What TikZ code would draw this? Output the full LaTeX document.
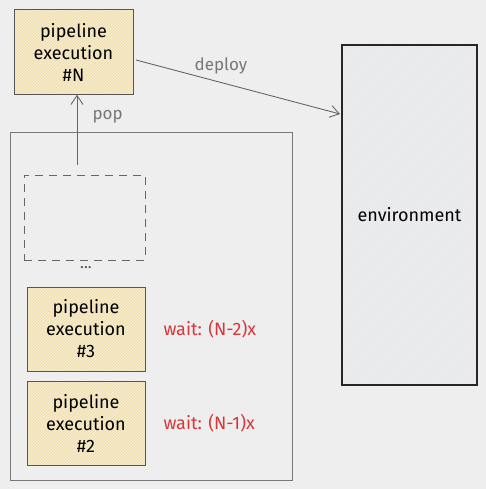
\documentclass[tikz,border=0pt]{standalone}
\usepackage{fontspec}
\setmainfont{Fira Sans}
\usetikzlibrary{arrows.meta,patterns}
\definecolor{bg}{HTML}{EEEEEE}
\definecolor{yfill}{HTML}{F5EBCF}
\definecolor{yhatch}{HTML}{F2DCA2}
\definecolor{efill}{HTML}{E7E8EA}
\definecolor{ehatch}{HTML}{F1F1F3}
\definecolor{edge}{HTML}{555555}
\definecolor{redtxt}{HTML}{D9363A}
\definecolor{graytxt}{HTML}{777777}
\tikzset{
  execbox/.style={fill=yfill, postaction={pattern=north east lines, pattern color=yhatch}, postaction={draw=edge, line width=1pt},
    minimum width=119pt, minimum height=85pt, align=center, font=\fontsize{18}{22}\selectfont, text=black, inner sep=0pt},
  waittxt/.style={text=redtxt, font=\fontsize{18}{20}\selectfont},
  lbl/.style={text=graytxt, font=\fontsize{17}{19}\selectfont},
  conn/.style={draw=edge!90, line width=0.9pt, -{Straight Barb[length=9pt,width=12pt]}},
}
\begin{document}
\begin{tikzpicture}[x=1pt,y=-1pt]
\useasboundingbox[fill=bg] (0,0) rectangle (486,489);
% container
\node[draw=edge!80, line width=1pt, minimum width=282pt, minimum height=347pt, inner sep=0pt] (cont) at (151,306.5) {};
% top box
\node[execbox] (topN) at (73.5,52) {pipeline\\execution\\\#N};
% dashed slot
\node[draw=edge!90, dashed, dash pattern=on 8pt off 6pt, line width=1pt, minimum width=121pt, minimum height=85pt, inner sep=0pt] (slot) at (84.5,217.5) {};
\node[text=edge, font=\fontsize{16}{16}\selectfont] (dots) at (86,268) {...};
% boxes
\node[execbox, minimum width=118pt, minimum height=84pt] (b3) at (86,329) {pipeline\\execution\\\#3};
\node[execbox, minimum width=118pt, minimum height=84pt] (b2) at (86,423) {pipeline\\execution\\\#2};
\node[waittxt, anchor=west] (w3) at (160,329) {wait: (N-2)x};
\node[waittxt, anchor=west] (w2) at (160,423) {wait: (N-1)x};
% environment
\node[fill=efill, postaction={pattern=north east lines, pattern color=ehatch}, postaction={draw=black!85, line width=1.2pt},
  minimum width=135pt, minimum height=340pt, inner sep=0pt, font=\fontsize{18}{20}\selectfont] (env) at (409.5,215) {environment};
% connectors
\coordinate (popstart) at (77,165);
\draw[conn] (popstart) -- (topN.south -| popstart);
\node[lbl, anchor=west] (poplbl) at (89,117) {pop};
\coordinate (depstart) at (136,60);
\coordinate (depend) at (340,114);
\draw[conn] (depstart) -- (depend);
\node[lbl] (deplbl) at (221,66) {deploy};
\end{tikzpicture}
\end{document}
